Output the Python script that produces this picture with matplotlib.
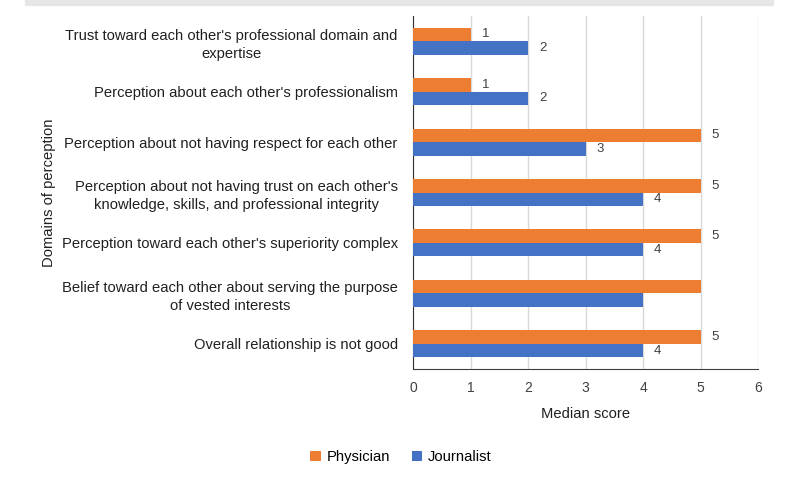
import matplotlib
matplotlib.use("Agg")
import matplotlib.pyplot as plt
from matplotlib.patches import Rectangle

# ------------- DATA -------------
categories = [
    "Trust toward each other's professional domain and\nexpertise",
    "Perception about each other's professionalism",
    "Perception about not having respect for each other",
    "Perception about not having trust on each other's\nknowledge, skills, and professional integrity",
    "Perception toward each other's superiority complex",
    "Belief toward each other about serving the purpose\nof vested interests",
    "Overall relationship is not good",
]
physician = [1, 1, 5, 5, 5, 5, 5]
journalist = [2, 2, 3, 4, 4, 4, 4]
# the reference leaves the "vested interests" bars unlabelled
show_label = [True, True, True, True, True, False, True]
x_ticks = [0, 1, 2, 3, 4, 5, 6]
# --------------------------------

ORANGE = "#ED7D31"
BLUE = "#4472C4"
TEXT_FONT = ["Liberation Sans", "DejaVu Sans"]
TXT_SIZE = 10.6

fig = plt.figure(figsize=(8, 4.8), dpi=100)
# faint grey band along the top edge, as in the source image
fig.patches.append(Rectangle((25 / 800, 1 - 5 / 480), 748 / 800, 5 / 480,
                             transform=fig.transFigure, color="#E6E6E6", zorder=0))

ax = fig.add_axes([413 / 800, 1 - 369 / 480, 345 / 800, 353 / 480])

bar_h = 0.268
ys = list(range(len(categories)))
p_bars = ax.barh([y - bar_h / 2 for y in ys], physician, height=bar_h,
                 color=ORANGE, label="Physician", zorder=3)
j_bars = ax.barh([y + bar_h / 2 for y in ys], journalist, height=bar_h,
                 color=BLUE, label="Journalist", zorder=3)

for bars, vals in ((p_bars, physician), (j_bars, journalist)):
    for rect, v, show in zip(bars, vals, show_label):
        if not show:
            continue
        ax.annotate(str(v), (v, rect.get_y() + rect.get_height() / 2),
                    xytext=(8, 0), textcoords="offset points",
                    ha="left", va="center", fontsize=9.5, color="#404040",
                    family=TEXT_FONT)

ax.set_xlim(0, 6)
ax.set_ylim(len(categories) - 0.5, -0.5)
ax.set_xticks(x_ticks)
ax.set_yticks(ys)
ax.set_yticklabels(categories, family=TEXT_FONT, fontsize=TXT_SIZE,
                   color="#202020", multialignment="center", linespacing=1.35)
ax.tick_params(axis="y", length=0, pad=11)
ax.tick_params(axis="x", length=0, pad=9, labelsize=10, labelcolor="#404040")
for lbl in ax.get_xticklabels():
    lbl.set_family(TEXT_FONT)

ax.grid(axis="x", color="#D9D9D9", linewidth=1, zorder=0)
ax.set_axisbelow(True)
for side in ("top", "right"):
    ax.spines[side].set_visible(False)
ax.spines["left"].set_color("#303030")
ax.spines["bottom"].set_color("#404040")

ax.set_xlabel("Median score", family=TEXT_FONT, fontsize=TXT_SIZE,
              color="#202020", labelpad=8)
fig.text(49 / 800, 1 - 193 / 480, "Domains of perception", rotation=90,
         ha="center", va="center", family=TEXT_FONT, fontsize=TXT_SIZE,
         color="#202020")

fig.legend(handles=[p_bars, j_bars], labels=["Physician", "Journalist"],
           loc="center", bbox_to_anchor=(401 / 800, 1 - 457 / 480), ncol=2,
           frameon=False, handlelength=0.7, handleheight=0.7, handletextpad=0.4,
           columnspacing=1.5, prop={"family": TEXT_FONT, "size": TXT_SIZE})

fig.savefig("out.png", dpi=100)
